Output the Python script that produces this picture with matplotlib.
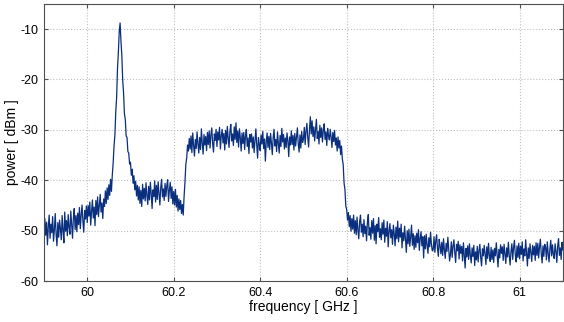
import numpy as np
import matplotlib
matplotlib.use("Agg")
import matplotlib.pyplot as plt

# frequency grid [GHz], 601 samples from 59.9 to 61.1 (step 2 MHz)
freq = np.linspace(59.9, 61.1, 601)

# power [dBm] (10 samples = 20 MHz per row)
power = [
    -51.2, -47.6, -50.9, -48.3, -52.8, -49.1, -46.9, -51.5, -48.7, -50.4,
    -47.2, -52.1, -49.8, -46.6, -50.7, -53.0, -48.4, -51.3, -47.9, -49.6,
    -51.8, -47.0, -49.9, -52.4, -46.3, -50.1, -48.0, -51.0, -46.8, -49.3,
    -50.7, -46.1, -48.9, -51.5, -47.4, -45.6, -49.8, -47.0, -50.2, -46.5,
    -48.8, -45.4, -49.6, -46.9, -44.9, -48.2, -50.3, -46.0, -47.7, -45.1,
    -48.4, -45.0, -47.1, -44.3, -48.9, -46.2, -43.9, -47.5, -45.3, -49.0,
    -44.0, -46.8, -43.3, -47.2, -45.1, -42.8, -46.3, -44.5, -47.6, -43.7,
    -45.2, -42.1, -44.6, -41.5, -43.8, -40.9, -43.0, -39.8, -42.2, -38.9,
    -36.5, -33.2, -31.0, -26.4, -23.5, -17.8, -14.6, -10.5, -8.8, -12.4,
    -15.2, -20.1, -22.6, -26.8, -27.9, -31.2, -31.5, -34.3, -34.6, -36.8,
    -36.4, -39.0, -37.8, -40.6, -39.1, -41.9, -40.2, -43.1, -41.0, -43.9,
    -41.3, -44.6, -42.0, -45.2, -40.8, -43.7, -41.6, -44.1, -40.5, -43.0,
    -44.8, -41.2, -43.9, -40.4, -42.7, -45.6, -41.9, -43.2, -40.1, -44.3,
    -41.0, -43.8, -40.3, -42.5, -44.9, -41.4, -39.8, -43.3, -41.7, -44.0,
    -40.6, -43.2, -41.1, -39.9, -44.2, -42.0, -40.4, -43.6, -41.3, -44.7,
    -42.2, -44.9, -41.8, -45.3, -43.0, -46.1, -43.7, -45.8, -44.0, -46.6,
    -44.8, -46.9, -43.2, -40.4, -36.9, -35.6, -33.0, -34.2, -31.7, -33.8,
    -31.2, -34.5, -30.6, -33.1, -35.2, -31.9, -33.7, -30.4, -32.8, -34.6,
    -31.5, -33.9, -29.8, -32.6, -34.8, -30.9, -33.0, -31.3, -34.1, -30.5,
    -32.9, -30.2, -33.6, -31.0, -29.6, -32.7, -34.4, -30.8, -32.1, -29.9,
    -33.3, -30.4, -32.0, -29.5, -33.8, -31.1, -29.9, -32.6, -30.7, -34.0,
    -30.1, -32.8, -29.3, -31.6, -33.5, -30.3, -28.9, -32.2, -30.8, -33.1,
    -29.4, -31.9, -28.6, -32.5, -30.2, -33.4, -29.8, -31.5, -34.2, -30.6,
    -32.7, -30.5, -33.9, -31.2, -29.9, -33.3, -31.6, -34.7, -30.9, -32.4,
    -30.8, -33.6, -31.4, -34.5, -32.1, -29.8, -33.0, -35.6, -31.5, -32.9,
    -34.1, -31.0, -32.8, -30.3, -33.7, -31.8, -36.2, -32.4, -30.6, -33.5,
    -31.3, -33.9, -30.7, -32.6, -34.9, -31.5, -29.9, -33.2, -31.9, -34.3,
    -30.4, -32.7, -34.6, -31.1, -33.3, -29.7, -32.4, -30.9, -33.8, -31.6,
    -33.5, -30.6, -32.2, -35.3, -31.4, -33.0, -30.2, -32.9, -31.1, -34.0,
    -30.7, -33.2, -31.5, -29.6, -32.8, -34.4, -31.0, -33.6, -30.3, -32.5,
    -31.8, -29.5, -32.9, -30.2, -28.7, -31.6, -33.4, -29.9, -27.4, -30.8,
    -28.2, -31.3, -29.4, -32.2, -29.9, -27.9, -31.7, -30.3, -32.8, -29.1,
    -31.5, -29.6, -32.4, -30.0, -28.8, -31.9, -30.4, -33.1, -29.7, -31.2,
    -32.0, -29.9, -31.4, -33.5, -30.5, -32.3, -30.1, -33.0, -31.6, -34.2,
    -31.4, -33.6, -32.1, -34.9, -33.2, -35.8, -36.9, -40.6, -41.8, -45.1,
    -45.8, -47.9, -46.4, -49.2, -47.0, -50.1, -47.6, -49.7, -46.9, -50.5,
    -48.0, -50.8, -47.3, -49.9, -51.6, -48.2, -46.9, -50.3, -48.7, -51.2,
    -47.8, -50.6, -49.1, -52.0, -48.3, -46.8, -50.9, -49.4, -51.7, -48.0,
    -50.5, -47.6, -51.9, -49.0, -52.6, -48.7, -50.2, -47.4, -51.3, -49.6,
    -51.8, -48.4, -50.7, -47.9, -52.3, -49.5, -51.1, -48.2, -53.2, -50.0,
    -48.6, -51.4, -49.8, -52.7, -48.9, -50.6, -53.0, -49.3, -51.6, -48.1,
    -52.2, -49.5, -51.3, -48.7, -53.4, -50.4, -52.0, -49.1, -51.8, -54.3,
    -50.0, -52.6, -49.7, -53.1, -51.2, -48.9, -52.9, -50.6, -53.7, -51.0,
    -53.3, -50.5, -52.4, -49.8, -53.9, -51.6, -50.2, -53.0, -51.2, -55.4,
    -51.0, -53.6, -50.7, -52.9, -54.5, -51.4, -53.2, -50.3, -52.7, -54.0,
    -53.8, -51.2, -54.3, -52.0, -50.8, -53.5, -55.1, -51.7, -53.0, -54.6,
    -52.3, -54.9, -51.6, -53.8, -55.5, -52.5, -54.1, -51.3, -53.6, -56.0,
    -54.7, -52.2, -55.3, -53.0, -51.8, -54.4, -56.3, -52.7, -54.0, -52.1,
    -55.6, -52.8, -54.5, -53.1, -56.0, -52.4, -54.8, -57.4, -53.5, -55.2,
    -53.0, -55.7, -52.6, -54.9, -56.4, -53.4, -55.1, -52.9, -56.9, -54.2,
    -55.8, -53.1, -56.2, -54.0, -52.7, -55.4, -57.0, -53.6, -55.0, -52.9,
    -54.6, -56.7, -53.2, -55.5, -52.5, -54.9, -56.1, -53.3, -55.7, -53.8,
    -56.3, -53.5, -55.0, -52.4, -54.8, -57.2, -53.7, -55.4, -52.8, -54.5,
    -53.2, -55.9, -52.7, -54.6, -56.5, -53.4, -55.2, -52.3, -54.9, -56.8,
    -54.1, -52.6, -55.7, -53.3, -51.9, -54.8, -56.2, -53.0, -55.3, -52.5,
    -55.6, -53.1, -54.7, -52.2, -56.0, -53.6, -55.0, -51.8, -54.4, -57.0,
    -53.4, -55.5, -52.6, -54.3, -56.1, -52.9, -54.8, -53.1, -55.9, -52.4,
    -54.9, -52.5, -55.4, -53.2, -51.7, -54.6, -56.4, -53.0, -55.1, -52.7,
    -53.3, -55.8, -52.2, -54.5, -56.2, -53.6, -51.9, -55.0, -52.8, -54.7,
    -55.5, -52.6, -54.1, -56.3, -53.0, -51.6, -54.9, -53.4, -55.7, -52.3,
    -53.8,
]

xticks = [60, 60.2, 60.4, 60.6, 60.8, 61]
xticklabels = ["60", "60.2", "60.4", "60.6", "60.8", "61"]
yticks = [-60, -50, -40, -30, -20, -10]

plt.rcParams["font.family"] = ["Liberation Sans", "DejaVu Sans"]
plt.rcParams["axes.unicode_minus"] = False

fig = plt.figure(figsize=(5.64, 3.22), dpi=100)
ax = fig.add_axes([0.078, 0.127, 0.92, 0.861])

ax.plot(freq, power, color="#0a2f7e", linewidth=0.9)

ax.set_xlim(59.9, 61.1)
ax.set_ylim(-60, -5)
ax.set_xticks(xticks)
ax.set_xticklabels(xticklabels)
ax.set_yticks(yticks)
ax.grid(True, linestyle=":", color="#c0c0c0", linewidth=0.8)
ax.tick_params(direction="in", length=3, labelsize=9, top=True, right=True,
               color="#505050", pad=4)
for sp in ax.spines.values():
    sp.set_color("#505050")
    sp.set_linewidth(0.8)

ax.set_xlabel("frequency [ GHz ]", fontsize=10, labelpad=1)
ax.set_ylabel("power [ dBm ]", fontsize=10, labelpad=1)

fig.savefig("out.png", dpi=100)
